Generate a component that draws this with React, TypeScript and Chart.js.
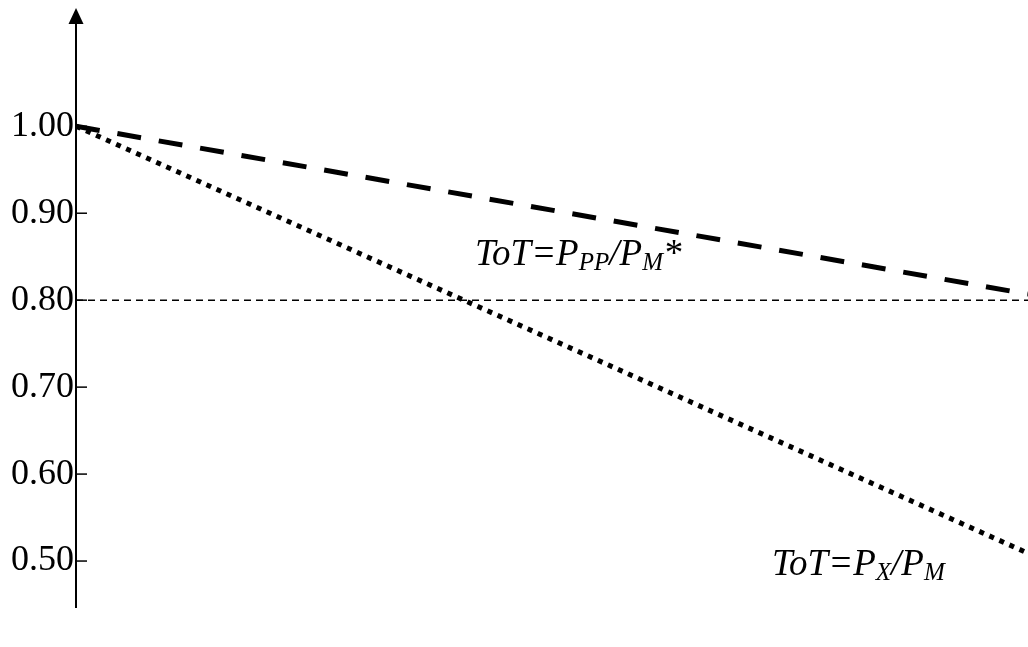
import React, { useEffect, useRef } from "react";
import { Chart, registerables } from "chart.js";

Chart.register(...registerables);

// ---- data ----
const xValues = [0, 1];
const pppmSeries = [1.0, 0.807]; // ToT = P_PP / P_M*
const pxpmSeries = [1.0, 0.509]; // ToT = P_X / P_M
const referenceSeries = [0.8, 0.8];
const yTickValues = [0.5, 0.6, 0.7, 0.8, 0.9, 1.0];
const yMin = 0.446;
const yMax = 1.136;

type Seg = { text: string; sub: boolean };
const labelPPPM: Seg[] = [
  { text: "ToT=P", sub: false },
  { text: "PP", sub: true },
  { text: "/P", sub: false },
  { text: "M", sub: true },
  { text: "*", sub: false },
];
const labelPPPMAt = { x: 0.419, y: 0.84 };
const labelPXPM: Seg[] = [
  { text: "ToT=P", sub: false },
  { text: "X", sub: true },
  { text: "/P", sub: false },
  { text: "M", sub: true },
];
const labelPXPMAt = { x: 0.731, y: 0.484 };

const SERIF = "'Liberation Serif', 'Times New Roman', serif";

function drawSegs(ctx: CanvasRenderingContext2D, segs: Seg[], x: number, y: number) {
  let cx = x;
  ctx.fillStyle = "#000";
  ctx.textBaseline = "alphabetic";
  ctx.textAlign = "left";
  for (const s of segs) {
    ctx.font = s.sub ? `italic 25px ${SERIF}` : `italic 37px ${SERIF}`;
    const dy = s.sub ? 5 : 0;
    ctx.fillText(s.text, cx, y + dy);
    cx += ctx.measureText(s.text).width;
  }
}

const decorPlugin = {
  id: "decor",
  beforeDatasetsDraw(chart: any) {
    const ctx = chart.ctx as CanvasRenderingContext2D;
    const area = chart.chartArea;
    const yS = chart.scales.y;
    ctx.save();
    ctx.strokeStyle = "#000";
    ctx.lineWidth = 1.5;
    for (const v of yTickValues) {
      const py = yS.getPixelForValue(v);
      ctx.beginPath();
      ctx.moveTo(area.left, py);
      ctx.lineTo(area.left + 11, py);
      ctx.stroke();
    }
    ctx.restore();
  },
  afterDatasetsDraw(chart: any) {
    const ctx = chart.ctx as CanvasRenderingContext2D;
    const area = chart.chartArea;
    const xS = chart.scales.x;
    const yS = chart.scales.y;
    ctx.save();
    // axis line with arrow
    ctx.strokeStyle = "#000";
    ctx.lineWidth = 2;
    ctx.beginPath();
    ctx.moveTo(area.left, area.top + 14);
    ctx.lineTo(area.left, area.bottom);
    ctx.stroke();
    ctx.fillStyle = "#000";
    ctx.beginPath();
    ctx.moveTo(area.left, area.top);
    ctx.lineTo(area.left - 7.5, area.top + 16);
    ctx.lineTo(area.left + 7.5, area.top + 16);
    ctx.closePath();
    ctx.fill();
    // labels
    drawSegs(ctx, labelPPPM, xS.getPixelForValue(labelPPPMAt.x), yS.getPixelForValue(labelPPPMAt.y));
    drawSegs(ctx, labelPXPM, xS.getPixelForValue(labelPXPMAt.x), yS.getPixelForValue(labelPXPMAt.y));
    ctx.restore();
  },
};

export default function App() {
  const ref = useRef<HTMLCanvasElement | null>(null);
  useEffect(() => {
    if (!ref.current) return;
    const toPts = (arr: number[]) => arr.map((v, i) => ({ x: xValues[i], y: v }));
    const chart = new Chart(ref.current, {
      type: "line",
      data: {
        datasets: [
          {
            label: "ToT=PPP/PM*",
            data: toPts(pppmSeries),
            borderColor: "#000",
            borderWidth: 5,
            borderDash: [24, 18],
            borderCapStyle: "butt",
            pointRadius: 0,
            fill: false,
          },
          {
            label: "ToT=PX/PM",
            data: toPts(pxpmSeries),
            borderColor: "#000",
            borderWidth: 5,
            borderDash: [5, 6],
            borderCapStyle: "butt",
            pointRadius: 0,
            fill: false,
          },
          {
            label: "0.80",
            data: toPts(referenceSeries),
            borderColor: "#000",
            borderWidth: 1.5,
            borderDash: [7, 5],
            pointRadius: 0,
            fill: false,
          },
        ],
      },
      options: {
        responsive: false,
        animation: false,
        layout: { padding: { top: 8, right: 0, bottom: 39, left: 0 } },
        plugins: { legend: { display: false }, tooltip: { enabled: false } },
        scales: {
          x: {
            type: "linear",
            min: 0,
            max: 1,
            display: false,
            afterFit(scale: any) {
              scale.paddingLeft = 0;
              scale.paddingRight = 0;
            },
          },
          y: {
            type: "linear",
            min: yMin,
            max: yMax,
            afterFit(scale: any) {
              scale.width = 76;
              scale.paddingTop = 0;
              scale.paddingBottom = 0;
            },
            afterBuildTicks(scale: any) {
              scale.ticks = yTickValues.map((v) => ({ value: v }));
            },
            grid: { display: false, drawTicks: false },
            border: { display: false },
            ticks: {
              padding: 2,
              color: "#000",
              font: { family: SERIF, size: 36 },
              callback: (v: any) => Number(v).toFixed(2),
            },
          },
        },
      },
      plugins: [decorPlugin],
    });
    return () => chart.destroy();
  }, []);
  return (
    <div style={{ position: "absolute", left: 0, top: 0, width: 1028, height: 647, background: "#fff" }}>
      <canvas ref={ref} width={1028} height={647} style={{ display: "block" }} />
    </div>
  );
}
